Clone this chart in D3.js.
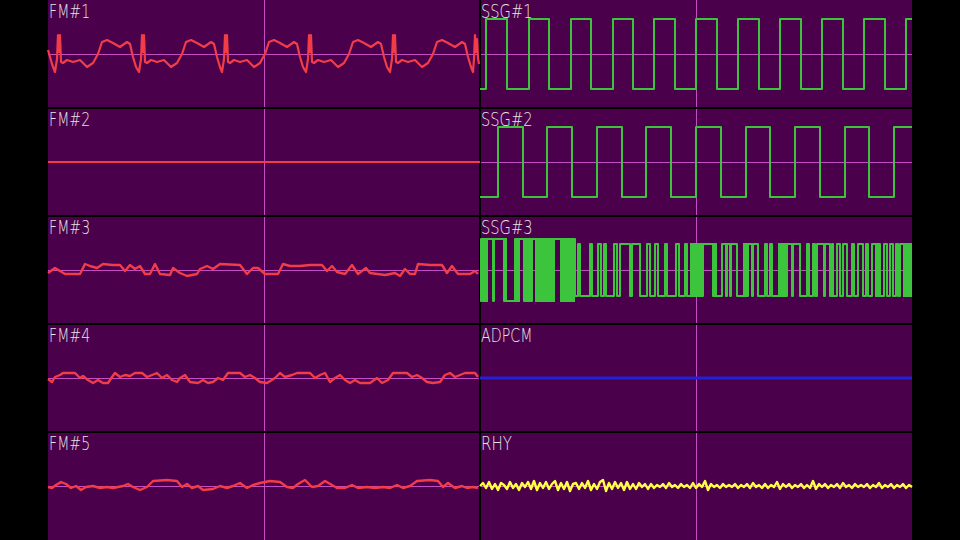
<!DOCTYPE html>
<html>
<head>
<meta charset="utf-8">
<script src="https://cdn.jsdelivr.net/npm/d3@7"></script>
<style>
body { margin: 0; background: #000; }
svg { display: block; }
</style>
</head>
<body>
<script>
// channel names, left column then right column, top to bottom
var leftNames = ["FM#1", "FM#2", "FM#3", "FM#4", "FM#5"];
var rightNames = ["SSG#1", "SSG#2", "SSG#3", "ADPCM", "RHY"];

// FM traces: [sample, level]
var fm1 = [[0,4],[4,-10],[7,-18],
  [9,-5],[10,19],[11,2],[12,19],[13,-8],[15,-9],[19,-6],[25,-8],[32,-6],[39,-13],[45,-9],[50,0],[54,12],[59,14],[65,11],[72,7],[79,12],[82,10],[85,-3],[88,-13],[91,-18],
  [93,-5],[94,19],[95,2],[96,19],[97,-8],[99,-9],[103,-6],[109,-8],[116,-6],[123,-13],[129,-9],[134,0],[138,12],[143,14],[149,11],[156,7],[163,12],[166,10],[169,-3],[172,-13],[174,-18],
  [176,-5],[177,19],[178,2],[179,19],[180,-8],[182,-9],[186,-6],[192,-8],[199,-6],[206,-13],[212,-9],[217,0],[221,12],[226,14],[232,11],[239,7],[246,12],[249,10],[252,-3],[255,-13],[258,-18],
  [260,-5],[261,19],[262,2],[263,19],[264,-8],[266,-9],[270,-6],[276,-8],[283,-6],[290,-13],[296,-9],[301,0],[305,12],[310,14],[316,11],[323,7],[330,12],[333,10],[336,-3],[339,-13],[342,-18],
  [344,-5],[345,19],[346,2],[347,19],[348,-8],[350,-9],[354,-6],[360,-8],[367,-6],[374,-13],[380,-9],[385,0],[389,12],[394,14],[400,11],[407,7],[414,12],[417,10],[420,-3],[423,-13],[425,-18],
  [426,-5],[427,19],[428,2],[429,15],[430,-4],[431,-10]];
var fm2 = [[0,0],[432,0]];
var fm3 = [[0,-3],[7,2],[12,-1],[17,-4],[32,-4],[37,6],[42,4],[49,2],[55,6],[64,5],[72,5],[77,-1],[82,5],[87,1],[92,4],[97,-4],[102,-4],[107,6],[112,-4],[122,-5],[125,2],[132,-3],[139,-6],[149,-4],[152,1],[159,4],[165,1],[172,6],[192,5],[199,-4],[205,2],[210,2],
  [217,-4],[230,-4],[235,6],[242,4],[252,4],[262,5],[274,5],[279,-1],[284,4],[289,-2],[297,-4],[304,5],[310,-4],[318,2],[322,-3],[337,-5],[347,-3],[352,-6],[357,1],[362,-4],[367,-4],[370,6],[382,5],[394,5],[399,-3],[404,4],[410,-4],[422,-4],[427,-1],[430,-4]];
var fm4 = [[0,-1],[4,-4],[7,1],[12,3],[15,5],[27,5],[32,0],[35,2],[40,-2],[45,-5],[50,-2],[55,-5],[60,-5],[64,1],[67,5],[72,1],[77,3],[82,2],[87,5],[94,5],[99,1],[104,3],[109,5],[114,0],[119,3],[124,-2],[129,-4],[132,0],[137,3],[142,-4],[150,-5],[155,-2],[160,-5],[165,-4],[170,0],[175,-2],[180,5],[192,5],[197,1],[202,3],[207,0],
  [212,-4],[219,-5],[227,0],[232,5],[237,1],[244,3],[249,5],[262,5],[267,0],[272,3],[277,5],[282,-4],[287,0],[292,3],[297,-2],[302,-5],[307,-2],[312,-5],[322,-5],[329,0],[334,-5],[340,-2],[345,5],[359,5],[364,1],[369,3],[374,0],[379,-4],[385,-5],[392,-4],[397,3],[402,5],[407,1],[412,3],[417,5],[427,5],[430,1]];
var fm5 = [[0,-1],[4,-2],[8,1],[13,4],[18,2],[23,-2],[28,0],[33,-4],[38,-1],[45,0],[52,-2],[59,-1],[65,-2],[75,0],[80,2],[85,-1],[92,-4],[99,-1],[105,5],[119,6],[129,5],[134,-1],[139,2],[144,-2],[150,0],[155,-4],[165,-3],[172,0],[179,-2],[185,0],[192,3],[199,-2],[205,1],
  [212,3],[222,5],[232,4],[239,-1],[245,-2],[250,2],[257,6],[264,-1],[270,0],[277,5],[284,1],[289,-2],[297,-2],[304,1],[310,-2],[319,-1],[327,-2],[335,-1],[342,-2],[349,1],[355,-2],[362,0],[369,5],[382,6],[390,5],[395,-1],[400,3],[407,-2],[414,0],[419,-2],[425,-1],[430,-2]];

// SSG tone channels: samples where the square wave flips (starts low)
var ssg1Edges = [6, 27, 49, 69, 91, 111, 133, 153, 174, 195, 216, 237, 258, 279, 300, 321, 342, 363, 384, 405, 426];
var ssg2Edges = [18, 43, 67, 92, 117, 142, 166, 191, 216, 241, 266, 290, 315, 340, 365, 389, 414];
var ssgLevel = 35;

// SSG#3 noise: [sample, level] steps and dense bursts [from, to, amplitude]
var ssg3 = [[0,-31],[1,31],[13,-31],[14,31],[24,-31],[35,31],[44,-31],[52,31],[75,31],[95,-26],[98,26],[100,-26],[110,26],[112,-26],[118,26],[121,-26],[124,26],[126,-26],[134,26],[137,-26],[140,26],[150,-26],[152,26],[160,-26],[167,26],[170,-26],[175,26],[178,-26],[185,26],[187,-26],[196,26],[199,-26],[205,26],[207,-26],
  [223,26],[233,-26],[242,26],[246,-26],[247,26],[250,-26],[251,26],[257,-26],[268,26],[272,-26],[273,26],[278,-26],[285,26],[287,-26],[290,26],[292,-26],[307,26],[312,-26],[313,26],[320,-26],[327,26],[329,-26],[333,26],[335,-26],[337,26],[344,-26],[345,26],[350,-26],[352,26],[353,-26],[357,26],[360,-26],[363,26],[367,-26],[372,26],[374,-26],[378,26],[383,-26],[386,26],[388,-26],[392,26],[400,-26],[404,26],[407,-26],[410,26],[413,-26],[416,26],[418,-26],[420,26],[432,26]];
var ssg3Bursts = [[2,8,31],[24,27,31],[35,40,31],[44,52,31],[55,75,31],[80,95,31],[210,223,26],[233,237,26],[263,268,26],[298,307,26],[395,400,26],[423,432,26]];

var adpcm = [[0,0],[432,0]];

// rhythm noise, one level every 3 samples
var rhyStep = 3;
var rhy = [0,3,-2,4,-3,2,-4,3,1,-3,4,-2,2,-4,3,-1,4,-3,5,-4,3,-2,4,-3,2,5,-4,3,-3,4,-5,2,3,-3,3,-2,5,-4,2,-3,4,6,-5,3,-3,4,-2,3,-4,4,-3,2,-3,3,-1,2,-3,
  2,-2,1,-1,2,-2,3,-1,1,-2,2,-1,1,-2,3,-2,2,-1,5,-4,2,-1,1,-2,2,-1,1,-1,2,-2,1,-1,2,-2,3,-1,1,-2,2,-2,1,-1,4,-3,2,-1,2,-2,1,-1,2,-2,1,-2,5,-3,2,-1,2,-2,1,-1,2,-2,3,-1,1,-2,2,-1,1,-1,2,-2,1,-1,3,-2,1,-1,2,-2,1,-1,2,-2,1,-1];

var W = 960, H = 540;
var left = 48, cellW = 432, cellH = 108;

var svg = d3.select("body").append("svg")
    .attr("width", W)
    .attr("height", H);

svg.append("rect")
    .attr("x", left).attr("y", 0)
    .attr("width", cellW * 2).attr("height", H)
    .attr("fill", "#4a004a");

// per-cell scales
function cellX(col) {
    return d3.scaleLinear().domain([0, 432]).range([left + col * cellW, left + (col + 1) * cellW]);
}
function cellY(row) {
    return d3.scaleLinear().domain([-54, 54]).range([(row + 1) * cellH, row * cellH]);
}

// pink centre lines
var rows = d3.range(5);
svg.selectAll(".hmid").data(rows).enter().append("line")
    .attr("x1", left).attr("x2", left + cellW * 2)
    .attr("y1", function (r) { return cellY(r)(0) + 0.5; })
    .attr("y2", function (r) { return cellY(r)(0) + 0.5; })
    .attr("stroke", "#c44cc4").attr("stroke-width", 1);
svg.selectAll(".vmid").data([0, 1]).enter().append("line")
    .attr("x1", function (c) { return cellX(c)(216) + 0.5; })
    .attr("x2", function (c) { return cellX(c)(216) + 0.5; })
    .attr("y1", 0).attr("y2", H)
    .attr("stroke", "#c44cc4").attr("stroke-width", 1);

// black cell borders
svg.selectAll(".hsep").data([1, 2, 3, 4]).enter().append("line")
    .attr("x1", left).attr("x2", left + cellW * 2)
    .attr("y1", function (r) { return r * cellH; })
    .attr("y2", function (r) { return r * cellH; })
    .attr("stroke", "#000").attr("stroke-width", 2);
svg.append("line")
    .attr("x1", left + cellW).attr("x2", left + cellW)
    .attr("y1", 0).attr("y2", H)
    .attr("stroke", "#000").attr("stroke-width", 2);

function trace(points, col, row, color, curve, width) {
    var x = cellX(col), y = cellY(row);
    var line = d3.line()
        .x(function (d) { return x(d[0]); })
        .y(function (d) { return y(d[1]); })
        .curve(curve || d3.curveLinear);
    svg.append("path")
        .datum(points)
        .attr("d", line)
        .attr("fill", "none")
        .attr("stroke", color)
        .attr("stroke-width", width || 2)
        .attr("stroke-linejoin", "round");
}

function squareFromEdges(edges) {
    var pts = [[0, -ssgLevel]];
    edges.forEach(function (e, i) {
        pts.push([e, i % 2 === 0 ? ssgLevel : -ssgLevel]);
    });
    pts.push([432, pts[pts.length - 1][1]]);
    return pts;
}

var red = "#f23c48", green = "#3cc43c";

trace(fm1, 0, 0, red, null, 2.2);
trace(fm2, 0, 1, red, null, 2.2);
trace(fm3, 0, 2, red, null, 2.4);
trace(fm4, 0, 3, red, null, 2.4);
trace(fm5, 0, 4, red, null, 2.4);

trace(squareFromEdges(ssg1Edges), 1, 0, green, d3.curveStepAfter);
trace(squareFromEdges(ssg2Edges), 1, 1, green, d3.curveStepAfter);
trace(ssg3, 1, 2, green, d3.curveStepAfter);

var x3 = cellX(1), y3 = cellY(2);
svg.selectAll(".burst").data(ssg3Bursts).enter().append("rect")
    .attr("x", function (d) { return x3(d[0]); })
    .attr("width", function (d) { return x3(d[1]) - x3(d[0]); })
    .attr("y", function (d) { return y3(d[2]) - 1; })
    .attr("height", function (d) { return y3(-d[2]) - y3(d[2]) + 2; })
    .attr("fill", green);

trace(adpcm, 1, 3, "#2222d4", null, 3);
trace(rhy.map(function (v, i) { return [i * rhyStep, v]; }), 1, 4, "#ffff44", null, 2.4);

// channel labels
function labels(names, col) {
    svg.selectAll(".lab" + col).data(names).enter().append("text")
        .attr("x", cellX(col)(0) + 1)
        .attr("y", function (d, i) { return i * cellH + 18; })
        .attr("font-family", "DejaVu Sans")
        .attr("font-weight", 200)
        .attr("font-size", 19)
        .attr("fill", "#e4e4e4")
        .attr("textLength", function (d) { return d.length * 10.3; })
        .attr("lengthAdjust", "spacingAndGlyphs")
        .text(function (d) { return d; });
}
labels(leftNames, 0);
labels(rightNames, 1);
</script>
</body>
</html>
